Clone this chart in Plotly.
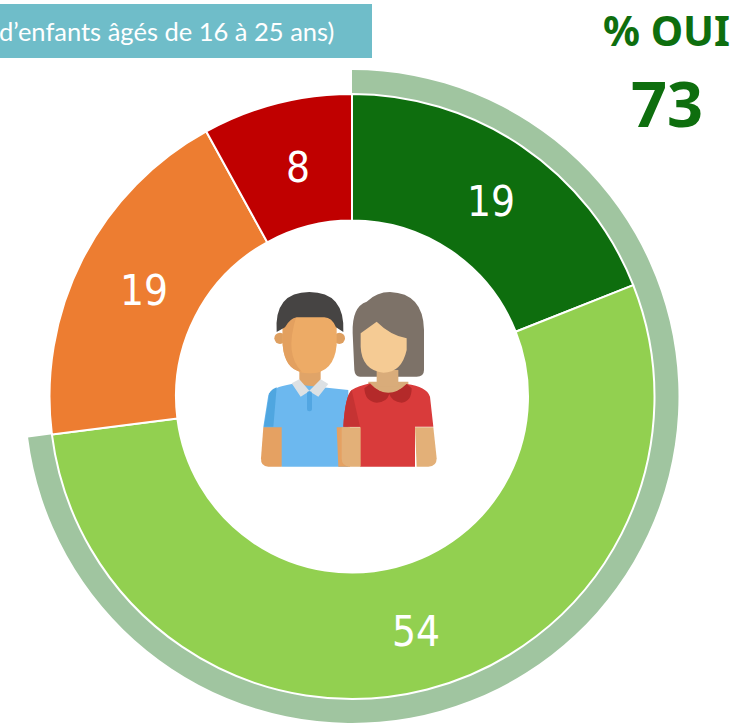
import base64
import math
import plotly.graph_objects as go

W, H = 753, 725
categories = ["Oui, tout à fait", "Oui, plutôt", "Non, plutôt pas", "Non, pas du tout"]
values = [19, 54, 19, 8]
colors = ["#0E6E0E", "#92D050", "#ED7D31", "#C00000"]
ring_values = [73, 27]
ring_colors = ["#A0C5A0", "rgba(0,0,0,0)"]
subtitle = "d’enfants âgés de 16 à 25 ans)"
oui_label = "% OUI"
oui_value = "73"

CX, CY = 352, 396.5
R_OUT, R_HOLE = 302.5, 176
def domain(r):
    return dict(x=[(CX - r) / W, (CX + r) / W], y=[(H - CY - r) / H, (H - CY + r) / H])

svg = '''<svg xmlns="http://www.w3.org/2000/svg" viewBox="0 0 690 630" width="690" height="630">
<path d="M208 300h64v50l-30 30-34-30z" fill="#E0A468"/>
<path d="M115 375Q125 352 185 342L355 360V590H155L100 470z" fill="#6CB8EF"/>
<path d="M102 470L118 370Q124 358 140 352L130 470z" fill="#4FA6E0"/>
<path d="M185 340L208 328L238 362L272 328L295 342L265 380L238 364L212 380z" fill="#DDE1E4"/>
<rect x="231" y="364" width="15" height="60" rx="7" fill="#52A6E2"/>
<path d="M100 472H155V590H115Q92 590 93 565z" fill="#E5A162"/>
<path d="M320 472H360V590H325z" fill="#E5A162"/>
<circle cx="150" cy="205" r="17" fill="#DE9F60"/><circle cx="328" cy="205" r="17" fill="#DE9F60"/>
<path d="M158 135H320V225Q312 310 240 310Q165 310 158 225z" fill="#EDAB66"/>
<path d="M158 135H200Q180 200 185 240Q190 280 215 305Q165 300 158 225z" fill="#E3A05F"/>
<path d="M140 186Q132 66 238 66Q345 66 340 186L318 172Q305 140 280 142H200Q180 145 165 172z" fill="#464443"/>
<path d="M368 190Q365 110 410 95Q440 66 480 66Q580 70 582 180V300Q582 320 560 320H390Q375 320 373 300z" fill="#7D7268"/>
<path d="M415 335H535V385H415z" fill="#D9AC7A"/>
<path d="M440 300h65v50h-65z" fill="#D9AC7A"/>
<path d="M392 190L440 155Q480 195 530 205V240Q515 308 460 308Q395 300 392 230z" fill="#F5CB94"/>
<path d="M340 470Q345 380 365 360Q385 348 420 340Q475 400 530 342Q590 350 600 380L610 470H555V590H390V470z" fill="#D93B3B"/>
<path d="M340 470Q345 380 365 360L390 470z" fill="#C53333"/>
<path d="M403 355L420 342Q475 395 530 342L545 355Q545 395 515 398Q485 395 478 372Q470 398 440 398Q405 395 403 355z" fill="#B42A2A"/>
<path d="M335 472H392V590H360Q335 590 335 565z" fill="#E3B078"/>
<path d="M555 472H610L620 565Q620 590 595 590H560z" fill="#E3B078"/>
</svg>'''
icon = "data:image/svg+xml;base64," + base64.b64encode(svg.encode()).decode()

fig = go.Figure()
fig.add_trace(go.Pie(
    values=ring_values, labels=["Oui", "Autre"], domain=domain(326.5), hole=302 / 326.5,
    sort=False, direction="clockwise", rotation=0, textinfo="none", hoverinfo="skip",
    marker=dict(colors=ring_colors, line=dict(color="rgba(0,0,0,0)", width=0)), showlegend=False,
))
fig.add_trace(go.Pie(
    values=values, labels=categories, domain=domain(R_OUT), hole=R_HOLE / R_OUT,
    sort=False, direction="clockwise", rotation=0, textinfo="none",
    marker=dict(colors=colors, line=dict(color="white", width=2)), showlegend=False,
))

def px(x): return x / W
def py(y): return 1 - y / H

# value labels placed at the middle of each slice
labels = []
cum = 0
total = sum(values)
for v in values:
    a = 2 * math.pi * (cum + v / 2) / total
    cum += v
    rm = (R_OUT + R_HOLE) / 2
    labels.append(dict(
        text=str(v), xref="paper", yref="paper",
        x=px(CX + rm * math.sin(a) + 5), y=py(CY - rm * math.cos(a) + 3),
        xanchor="center", yanchor="middle", showarrow=False,
        font=dict(family="DejaVu Sans Condensed", size=42, color="white"),
    ))

fig.update_layout(
    width=W, height=H, margin=dict(l=0, r=0, t=0, b=0), autosize=False,
    paper_bgcolor="white", plot_bgcolor="white",
    shapes=[dict(type="rect", xref="paper", yref="paper", x0=0, x1=px(372), y0=py(58), y1=py(4),
                 fillcolor="#6FBDC9", line=dict(width=0), layer="below")],
    images=[dict(source=icon, xref="paper", yref="paper", x=px(230), y=py(270),
                 sizex=230 / W, sizey=210 / H, xanchor="left", yanchor="top", sizing="stretch", layer="above")],
    annotations=labels + [
        dict(text=subtitle, xref="paper", yref="paper", x=px(336), y=py(31), xanchor="right", yanchor="middle",
             showarrow=False, font=dict(family="Lato", size=25.5, color="white")),
        dict(text=oui_label, xref="paper", yref="paper", x=px(666), y=py(30), xanchor="center", yanchor="middle",
             showarrow=False, font=dict(family="Noto Sans", size=41, weight=700, color="#0E6E0E")),
        dict(text=oui_value, xref="paper", yref="paper", x=px(667), y=py(103), xanchor="center", yanchor="middle",
             showarrow=False, font=dict(family="Noto Sans", size=63, weight=700, color="#0E6E0E")),
    ],
)
fig.write_html("out.html", config={"displayModeBar": False},
               post_script="document.body.style.margin='0';document.documentElement.style.overflow='hidden';")
